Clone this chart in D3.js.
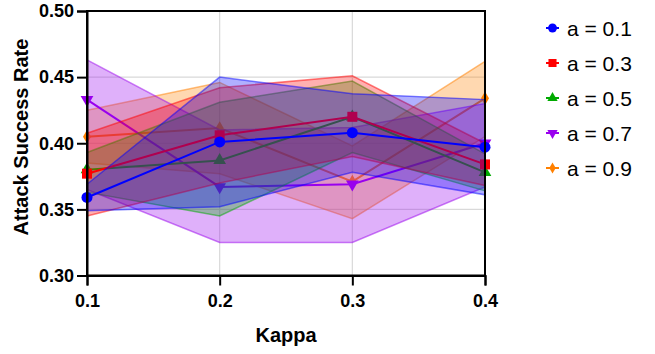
<!DOCTYPE html>
<html>
<head>
<meta charset="utf-8">
<script src="https://cdn.jsdelivr.net/npm/d3@7"></script>
<style>
  body { margin: 0; background: #fff; }
  text { font-family: "Liberation Sans", Arial, sans-serif; }
</style>
</head>
<body>
<div id="chart"></div>
<script>
// data
const kappas = [0.1, 0.2, 0.3, 0.4];
const yTicks = [0.30, 0.35, 0.40, 0.45, 0.50];
const seriesNames = ['a = 0.1', 'a = 0.3', 'a = 0.5', 'a = 0.7', 'a = 0.9'];

const meanA01 = [0.359, 0.401, 0.408, 0.397];
const upA01 = [0.369, 0.450, 0.4375, 0.433];
const lowA01 = [0.349, 0.352, 0.378, 0.361];

const meanA03 = [0.377, 0.406, 0.420, 0.384];
const upA03 = [0.4075, 0.442, 0.451, 0.400];
const lowA03 = [0.345, 0.370, 0.390, 0.368];

const meanA05 = [0.380, 0.387, 0.420, 0.378];
const upA05 = [0.393, 0.431, 0.447, 0.392];
const lowA05 = [0.363, 0.345, 0.393, 0.364];

const meanA07 = [0.433, 0.367, 0.369, 0.400];
const upA07 = [0.463, 0.410, 0.412, 0.430];
const lowA07 = [0.365, 0.325, 0.325, 0.367];

const meanA09 = [0.405, 0.4115, 0.371, 0.434];
const upA09 = [0.425, 0.446, 0.398, 0.462];
const lowA09 = [0.385, 0.377, 0.343, 0.405];

const series = [
    { name: seriesNames[0], mean: meanA01, up: upA01, low: lowA01, color: '#0000ff', symbol: d3.symbolCircle, size: 95, rot: 0 },
    { name: seriesNames[1], mean: meanA03, up: upA03, low: lowA03, color: '#ff0000', symbol: d3.symbolSquare, size: 100, rot: 0 },
    { name: seriesNames[2], mean: meanA05, up: upA05, low: lowA05, color: '#00aa00', symbol: d3.symbolTriangle, size: 70, rot: 0 },
    { name: seriesNames[3], mean: meanA07, up: upA07, low: lowA07, color: '#9900ee', symbol: d3.symbolTriangle, size: 70, rot: 180 },
    { name: seriesNames[4], mean: meanA09, up: upA09, low: lowA09, color: '#ff8000', symbol: d3.symbolDiamond, size: 55, rot: 0 }
];

const width = 655, height = 354;
const margin = { top: 11, left: 87 };
const w = 485 - margin.left;
const h = 275.5 - margin.top;

const svg = d3.select('#chart').append('svg')
    .attr('width', width)
    .attr('height', height);

const g = svg.append('g')
    .attr('transform', `translate(${margin.left},${margin.top})`);

const xScale = d3.scaleLinear().domain([0.1, 0.4]).range([0, w]);
const yScale = d3.scaleLinear().domain([0.30, 0.50]).range([h, 0]);

// gridlines
g.selectAll('.gx')
    .data(kappas.slice(1, -1))
    .join('line')
    .attr('x1', d => xScale(d)).attr('x2', d => xScale(d))
    .attr('y1', 0).attr('y2', h)
    .attr('stroke', '#d9d9d9').attr('stroke-width', 1.2);

g.selectAll('.gy')
    .data(yTicks.slice(1, -1))
    .join('line')
    .attr('y1', d => yScale(d)).attr('y2', d => yScale(d))
    .attr('x1', 0).attr('x2', w)
    .attr('stroke', '#d9d9d9').attr('stroke-width', 1.2);

const area = d3.area()
    .x((d, i) => xScale(kappas[i]))
    .y0(d => yScale(d[0]))
    .y1(d => yScale(d[1]));

const line = d3.line()
    .x((d, i) => xScale(kappas[i]))
    .y(d => yScale(d));

// draw last series first so a = 0.1 ends up on top
series.slice().reverse().forEach(s => {
    const band = s.low.map((v, i) => [v, s.up[i]]);
    g.append('path')
        .datum(band)
        .attr('d', area)
        .attr('fill', s.color)
        .attr('fill-opacity', 0.31)
        .attr('stroke', s.color)
        .attr('stroke-opacity', 0.5)
        .attr('stroke-width', 1.5);

    g.append('path')
        .datum(s.mean)
        .attr('d', line)
        .attr('fill', 'none')
        .attr('stroke', s.color)
        .attr('stroke-width', 2);

    g.selectAll(null)
        .data(s.mean)
        .join('path')
        .attr('d', d3.symbol().type(s.symbol).size(s.size))
        .attr('transform', (d, i) => `translate(${xScale(kappas[i])},${yScale(d)}) rotate(${s.rot})`)
        .attr('fill', s.color);
});

// frame
g.append('rect')
    .attr('width', w).attr('height', h)
    .attr('fill', 'none')
    .attr('stroke', '#000').attr('stroke-width', 2);

// axes
const xAxis = d3.axisBottom(xScale).tickValues(kappas).tickFormat(d3.format('.1f')).tickSize(10);
const yAxis = d3.axisLeft(yScale).tickValues(yTicks).tickFormat(d3.format('.2f')).tickSize(10);

const xAxisG = g.append('g')
    .attr('transform', `translate(0,${h})`)
    .call(xAxis);
const yAxisG = g.append('g').call(yAxis);

[xAxisG, yAxisG].forEach(a => {
    a.select('.domain').attr('stroke-width', 2);
    a.selectAll('.tick line').attr('stroke-width', 2);
    a.selectAll('.tick text')
        .attr('font-size', 18)
        .attr('font-weight', 'bold')
        .attr('fill', '#000')
        .style('font-family', '"Liberation Sans", Arial, sans-serif');
});
xAxisG.selectAll('.tick text').attr('y', 13).attr('dy', '1em');
yAxisG.selectAll('.tick text').attr('x', -13);

// axis titles
svg.append('text')
    .attr('x', margin.left + w / 2)
    .attr('y', 342)
    .attr('text-anchor', 'middle')
    .attr('font-size', 20)
    .attr('font-weight', 'bold')
    .text('Kappa');

svg.append('text')
    .attr('transform', `translate(28,137) rotate(-90)`)
    .attr('text-anchor', 'middle')
    .attr('font-size', 20)
    .attr('font-weight', 'bold')
    .text('Attack Success Rate');

// legend
const legend = svg.append('g')
    .attr('transform', 'translate(546,28)');

const rows = legend.selectAll('.legend-row')
    .data(series)
    .join('g')
    .attr('class', 'legend-row')
    .attr('transform', (d, i) => `translate(0,${i * 35})`);

rows.append('line')
    .attr('x1', 0).attr('x2', 13)
    .attr('stroke', d => d.color)
    .attr('stroke-width', 2);

rows.append('path')
    .attr('d', d => d3.symbol().type(d.symbol).size(d.size * 0.65)())
    .attr('transform', d => `translate(6.5,0) rotate(${d.rot})`)
    .attr('fill', d => d.color);

rows.append('text')
    .attr('x', 21)
    .attr('dy', '0.36em')
    .attr('font-size', 21)
    .text(d => d.name);
</script>
</body>
</html>
